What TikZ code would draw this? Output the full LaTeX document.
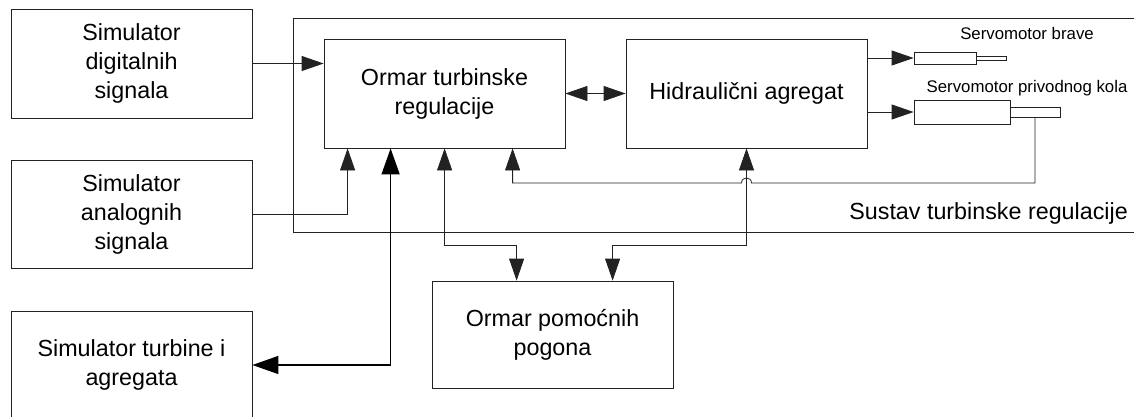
\documentclass[tikz,border=0pt]{standalone}
\usepackage{fontspec}
\setmainfont{Liberation Sans}
\usetikzlibrary{arrows.meta}
\definecolor{linegray}{HTML}{222222}
\begin{document}
\begin{tikzpicture}[x=1pt,y=-1pt,
  box/.style={draw=linegray, line width=0.8pt, rectangle, inner sep=0pt, align=center,
    minimum width=241pt, font=\fontsize{23.3}{29}\selectfont},
  servo/.style={draw=linegray, line width=0.8pt, rectangle, inner sep=0pt},
  tip/.tip={Triangle[length=22pt,width=15pt]},
  bigtip/.tip={Triangle[length=26pt,width=18pt]},
  conn/.style={draw=linegray, line width=0.8pt, -tip},
  connboth/.style={draw=linegray, line width=0.8pt, tip-tip},
  thickboth/.style={draw=black, line width=1.5pt, bigtip-bigtip},
  small/.style={font=\fontsize{16.8}{20}\selectfont, inner sep=0pt},
  big/.style={font=\fontsize{23.3}{28}\selectfont, inner sep=0pt}
]
\path[use as bounding box, clip] (0,0) rectangle (1134,416);
\fill[white] (0,0) rectangle (1134,416);

% system frame
\draw[linegray, line width=0.8pt] (1140,18) -- (293,18) -- (293,232) -- (1140,232);
\node[big, anchor=base east] (sys) at (1128,219) {Sustav turbinske regulacije};

% blocks
\node[box, minimum height=109pt] (dig) at (131.5,63.5) {Simulator\\digitalnih\\signala};
\node[box, minimum height=108pt] (ana) at (131.5,214) {Simulator\\analognih\\signala};
\node[box, minimum height=108pt] (tur) at (131.5,365) {Simulator turbine i\\agregata};
\node[box, minimum height=109pt] (otr) at (444.5,93.5) {Ormar turbinske\\regulacije};
\node[box, minimum height=109pt] (hid) at (746.5,93.5) {Hidraulični agregat};
\node[box, minimum height=107pt] (pom) at (552.5,334.5) {Ormar pomoćnih\\pogona};

% servomotors
\node[servo, minimum width=62pt, minimum height=12pt] (sbb) at (945,58) {};
\node[servo, minimum width=30pt, minimum height=4pt] (sbr) at (991,58) {};
\node[servo, minimum width=96pt, minimum height=24pt] (spb) at (962,112) {};
\node[servo, minimum width=50pt, minimum height=10pt] (spr) at (1035,112) {};
\node[small] (lsb) at (1027,33) {Servomotor brave};
\node[small] (lsp) at (1027,88) {Servomotor privodnog kola};

% connectors
\draw[conn] (dig.east) -- (otr.west |- dig.east);
\draw[conn] (ana.east) -| ([xshift=24pt]otr.south west);
\draw[connboth] (otr.east) -- (hid.west);
\draw[conn] (hid.east |- sbb.west) -- (sbb.west);
\draw[conn] (hid.east |- spb.west) -- (spb.west);
\draw[thickboth] ([xshift=67pt]otr.south west) |- (tur.east);
\draw[connboth] ([xshift=121pt]otr.south west) -- ++(0,97) -| ([xshift=85pt]pom.north west);
\draw[connboth] (hid.south) -- ++(0,97) -| ([xshift=181pt]pom.north west);
\coordinate (fb1) at (1035,183);
\coordinate (hopR) at (751.5,183);
\coordinate (hopL) at (741.5,183);
\draw[conn] (spr.south) -- (fb1) -- (hopR) .. controls (751.5,176.3) and (741.5,176.3) .. (hopL)
  -| ([xshift=189pt]otr.south west);
\end{tikzpicture}
\end{document}
